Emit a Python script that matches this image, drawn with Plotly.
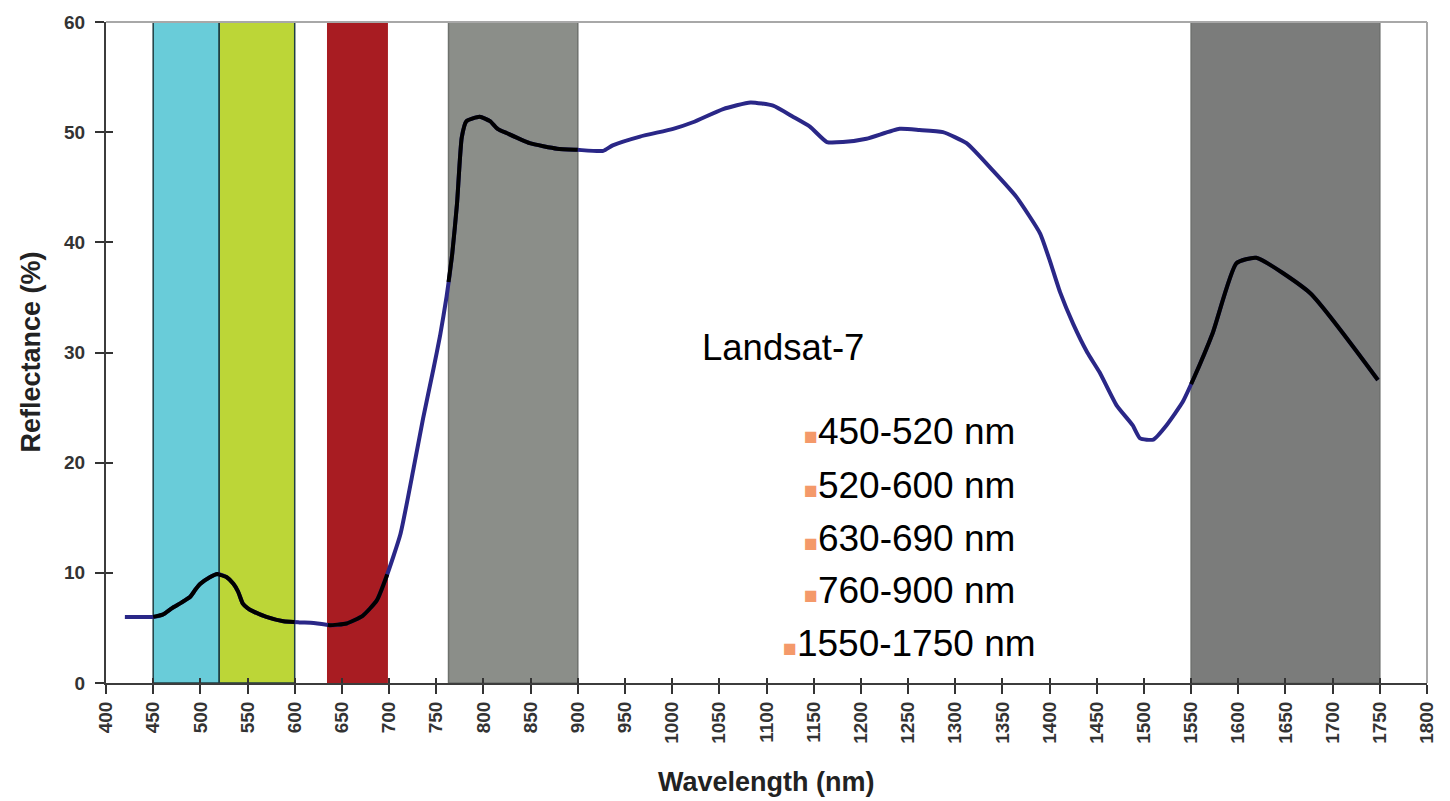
import numpy as np
import plotly.graph_objects as go

# Vegetation reflectance spectrum (wavelength in nm, reflectance in %)
wavelength = [420, 450, 460, 470, 480, 489, 495, 500, 510, 518, 528, 535, 540, 545,
              550, 556, 570, 588, 605, 620, 637, 655, 672, 687, 697, 712, 726, 736,
              747, 754, 761, 767, 772, 777, 782, 796, 807, 815, 825, 849, 878, 899,
              927, 937, 966, 1001, 1022, 1054, 1083, 1107, 1128, 1146, 1164, 1181,
              1206, 1241, 1262, 1287, 1312, 1340, 1365, 1390, 1400, 1411, 1425, 1440, 1453,
              1471, 1488, 1496, 1510, 1524, 1541, 1552, 1573, 1598, 1619, 1676, 1748]
reflectance = [6.0, 6.0, 6.2, 6.8, 7.3, 7.8, 8.5, 9.0, 9.6, 9.9, 9.6, 9.0, 8.3, 7.2,
               6.8, 6.5, 6.0, 5.6, 5.5, 5.45, 5.25, 5.4, 6.1, 7.5, 9.6, 13.5, 19.5, 24.0,
               28.5, 31.5, 35.1, 39.0, 43.5, 49.5, 51.0, 51.4, 51.0, 50.3, 49.9, 49.0, 48.5, 48.4,
               48.3, 48.8, 49.6, 50.3, 50.9, 52.1, 52.7, 52.4, 51.4, 50.5, 49.1, 49.1,
               49.4, 50.3, 50.2, 50.0, 49.0, 46.5, 44.1, 40.8, 38.4, 35.5, 32.6, 30.0, 28.2,
               25.2, 23.4, 22.2, 22.1, 23.4, 25.5, 27.5, 31.8, 38.1, 38.6, 35.4, 27.5]

# Landsat-7 spectral bands as drawn (start nm, end nm) with fill / edge colours
band_start = [450, 520, 635, 763, 1550]
band_end = [520, 600, 698, 900, 1750]
band_fill = ["#69CCD9", "#BCD637", "#A81C22", "#8B8E89", "#7B7C7B"]
band_edge = ["#1F3E42", "#1F3E42", "#A81C22", "#6E716D", "#6E706E"]

band_labels = ["450-520 nm", "520-600 nm", "630-690 nm", "760-900 nm", "1550-1750 nm"]
title_text = "Landsat-7"

x_ticks = list(range(400, 1801, 50))
y_ticks = list(range(0, 61, 10))

FONT = "Arial, 'Liberation Sans', sans-serif"
NAVY = "#2A2787"

wl = np.array(wavelength, dtype=float)
rf = np.array(reflectance, dtype=float)

fig = go.Figure()

# full spectrum in navy
fig.add_trace(go.Scatter(
    x=wl, y=rf, mode="lines",
    line=dict(color=NAVY, width=4, shape="spline", smoothing=0.5),
    hoverinfo="skip", showlegend=False))

# the part of the spectrum inside each band is drawn in black
for lo, hi in zip(band_start, band_end):
    lo_c, hi_c = max(lo, wl.min()), min(hi, wl.max())
    mask = (wl > lo_c) & (wl < hi_c)
    xs = np.concatenate([[lo_c], wl[mask], [hi_c]])
    ys = np.interp(xs, wl, rf)
    fig.add_trace(go.Scatter(
        x=xs, y=ys, mode="lines",
        line=dict(color="black", width=4, shape="spline", smoothing=0.5),
        hoverinfo="skip", showlegend=False))

# invisible trace that carries the overlay axes (inner tick marks)
fig.add_trace(go.Scatter(x=[None], y=[None], xaxis="x2", yaxis="y2",
                         hoverinfo="skip", showlegend=False))

shapes = []
for lo, hi, fc, ec in zip(band_start, band_end, band_fill, band_edge):
    shapes.append(dict(type="rect", xref="x", yref="y", x0=lo, x1=hi, y0=0, y1=60,
                       fillcolor=fc, line=dict(color=ec, width=1.5), layer="below"))
# light frame on top and right
shapes.append(dict(type="line", xref="paper", yref="paper", x0=0, x1=1, y0=1, y1=1,
                   line=dict(color="#A8A8A8", width=2), layer="above"))
shapes.append(dict(type="line", xref="paper", yref="paper", x0=1, x1=1, y0=0, y1=1,
                   line=dict(color="#A8A8A8", width=2), layer="above"))

annotations = [
    dict(text="<b>Reflectance (%)</b>", xref="paper", yref="paper", x=-0.0575, y=0.5,
         textangle=-90, showarrow=False, xanchor="center", yanchor="middle",
         font=dict(family=FONT, size=27, color="#222222")),
    dict(text="<b>Wavelength (nm)</b>", xref="paper", yref="paper", x=0.5, y=-0.150,
         showarrow=False, xanchor="center", yanchor="middle",
         font=dict(family=FONT, size=27, color="#222222")),
    dict(text=title_text, xref="paper", yref="paper", x=0.4497, y=0.5075,
         showarrow=False, xanchor="left", yanchor="middle",
         font=dict(family=FONT, size=36.5, color="black")),
]
label_y = [0.3799, 0.2988, 0.2192, 0.1396, 0.0601]
for lbl, yy in zip(band_labels, label_y):
    annotations.append(dict(
        text='<span style="font-size:23px;color:#F4996A">■</span>' + lbl,
        xref="paper", yref="paper", x=0.6079, y=yy, showarrow=False,
        xanchor="center", yanchor="middle",
        font=dict(family=FONT, size=37, color="black")))

tickfont = dict(family=FONT, size=19, color="#333333", weight="bold")

fig.update_layout(
    width=1450, height=801,
    margin=dict(l=106, r=23, t=13, b=118),
    paper_bgcolor="white", plot_bgcolor="white",
    shapes=shapes, annotations=annotations,
    xaxis=dict(range=[400, 1800], tickvals=x_ticks, ticktext=[str(v) for v in x_ticks],
               tickangle=-90, ticks="outside", ticklen=9, tickwidth=1.5, tickcolor="#333333",
               showline=True, linecolor="#3C3C3C", linewidth=2, showgrid=False,
               zeroline=False, tickfont=tickfont),
    yaxis=dict(range=[0, 60], tickvals=y_ticks, ticks="outside", ticklen=9, tickwidth=1.5,
               tickcolor="#333333", showline=True, linecolor="#3C3C3C", linewidth=2,
               showgrid=False, zeroline=False, tickfont=tickfont, ticklabelstandoff=6),
    xaxis2=dict(range=[400, 1800], tickvals=x_ticks, overlaying="x", anchor="y2",
                side="bottom", ticks="inside", ticklen=5, tickwidth=1.5, tickcolor="#333333",
                showticklabels=False, showline=False, showgrid=False, zeroline=False),
    yaxis2=dict(range=[0, 60], tickvals=y_ticks, overlaying="y", anchor="x2", side="left",
                ticks="inside", ticklen=7, tickwidth=1.5, tickcolor="#333333",
                showticklabels=False, showline=False, showgrid=False, zeroline=False),
)

fig.write_html("out.html")
